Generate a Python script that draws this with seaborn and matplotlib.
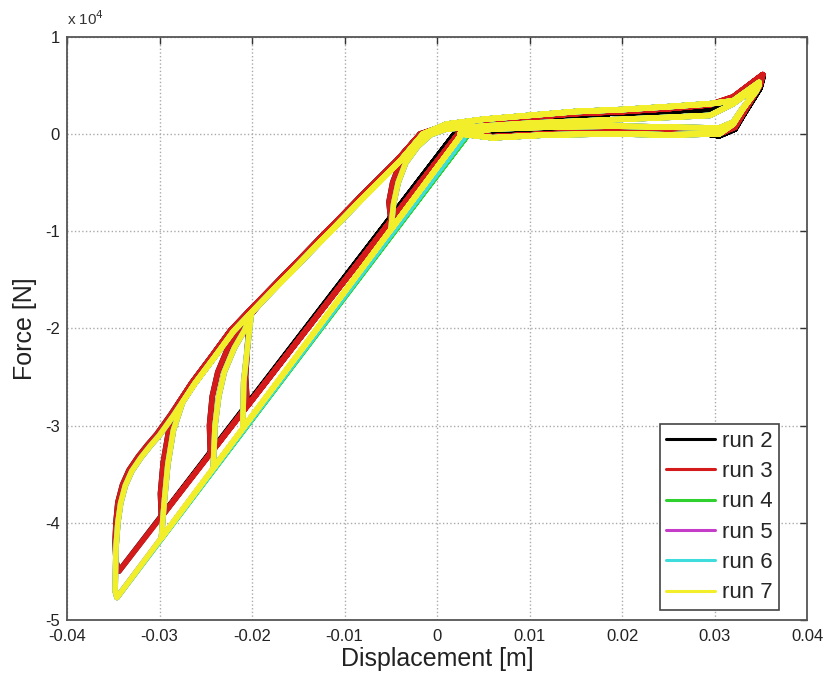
import pandas as pd
import matplotlib.pyplot as plt
import seaborn as sns
from matplotlib.lines import Line2D

# Force in units of 1e4 N, displacement in m
runs = ["run 2", "run 3", "run 4", "run 5", "run 6", "run 7"]
run_colors = ["#000000", "#d41a1a", "#2ed12e", "#c43cc8", "#3fdcdc", "#f2ef2a"]

# where each run's straight loading line leaves zero force
load_x0 = [0.0019, 0.0023, 0.0034, 0.0028, 0.0032, 0.0027]

# bottom of the loading line for each cycle: runs 2-3 and runs 4-7
tip_x_23 = [-0.0050, -0.0205, -0.0245, -0.0298, -0.0344]
tip_y_23 = [-0.89, -2.80, -3.29, -3.94, -4.50]
tip_x_47 = [-0.0050, -0.0210, -0.0242, -0.0298, -0.0346]
tip_y_47 = [-0.99, -3.03, -3.44, -4.16, -4.77]

# unloading branches of the smaller cycles, runs 2-3
u5_x_23 = [-0.0052, -0.0048, -0.0040, -0.0027, -0.0012]
u5_y_23 = [-0.70, -0.50, -0.30, -0.13, -0.01]
u20_x_23 = [-0.0207, -0.0205, -0.0203]
u20_y_23 = [-2.50, -2.20, -1.88]
u24_x_23 = [-0.0246, -0.0243, -0.0237, -0.0226, -0.0213]
u24_y_23 = [-3.00, -2.70, -2.45, -2.20, -2.00]
u30_x_23 = [-0.0299, -0.0296, -0.0290, -0.0280]
u30_y_23 = [-3.70, -3.38, -3.05, -2.78]

# unloading branches of the smaller cycles, runs 4-7
u5_x_47 = [-0.0047, -0.0042, -0.0034, -0.0021, -0.0007]
u5_y_47 = [-0.72, -0.50, -0.30, -0.13, -0.01]
u20_x_47 = [-0.0209, -0.0205, -0.0201]
u20_y_47 = [-2.55, -2.20, -1.87]
u24_x_47 = [-0.0240, -0.0236, -0.0230, -0.0219, -0.0208]
u24_y_47 = [-3.00, -2.70, -2.45, -2.20, -2.02]
u30_x_47 = [-0.0295, -0.0291, -0.0285, -0.0275]
u30_y_47 = [-3.80, -3.40, -3.05, -2.76]

# upper unloading envelope back to zero force, runs 2-3 and runs 4-7
env_x_23 = [-0.0347, -0.0348, -0.0347, -0.0345, -0.0340, -0.0333, -0.0323, -0.0313,
            -0.0303, -0.0288, -0.0265, -0.0243, -0.0223, -0.0203, -0.0163, -0.0123,
            -0.0083, -0.0043, -0.0018]
env_y_23 = [-4.40, -4.20, -3.99, -3.79, -3.61, -3.46, -3.32, -3.20,
            -3.09, -2.89, -2.56, -2.28, -2.02, -1.82, -1.43, -1.04,
            -0.65, -0.27, 0.00]
env_x_47 = [-0.0348, -0.0347, -0.0345, -0.0342, -0.0337, -0.0330, -0.0320, -0.0310,
            -0.0300, -0.0285, -0.0262, -0.0240, -0.0220, -0.0200, -0.0160, -0.0120,
            -0.0080, -0.0040, -0.0015]
env_y_47 = [-4.70, -4.25, -4.00, -3.80, -3.62, -3.47, -3.33, -3.21,
            -3.10, -2.90, -2.57, -2.29, -2.03, -1.83, -1.44, -1.05,
            -0.66, -0.28, 0.00]

# tension side loops
pos_x_run2 = [0.0010, 0.0030, 0.0050, 0.0070, 0.0090, 0.0110, 0.0130, 0.0150,
              0.0170, 0.0190, 0.0210, 0.0230, 0.0250, 0.0270, 0.0295, 0.0320,
              0.0352, 0.0349, 0.0330, 0.0322, 0.0305, 0.0285, 0.0265, 0.0245,
              0.0225, 0.0205, 0.0185, 0.0165, 0.0145, 0.0125, 0.0105, 0.0085,
              0.0065, 0.0045, 0.0025]
pos_y_run2 = [0.075, 0.11, 0.10, 0.15, 0.13, 0.17, 0.15, 0.20,
              0.17, 0.22, 0.19, 0.23, 0.21, 0.25, 0.24, 0.36,
              0.58, 0.47, 0.18, 0.05, -0.02, 0.01, 0.05, 0.02,
              0.06, 0.02, 0.06, 0.03, 0.05, 0.01, 0.05, 0.00,
              0.03, -0.02, 0.00]
pos_x_run3 = [0.0010, 0.0050, 0.0100, 0.0150, 0.0200, 0.0250, 0.0295, 0.0320, 0.0352,
              0.0349, 0.0330, 0.0322, 0.0305, 0.0250, 0.0190, 0.0120, 0.0060, 0.0025]
pos_y_run3 = [0.09, 0.13, 0.17, 0.21, 0.23, 0.26, 0.30, 0.38, 0.61,
              0.50, 0.20, 0.07, 0.00, 0.01, 0.02, 0.00, -0.03, 0.00]
pos_x_47 = [0.0010, 0.0050, 0.0100, 0.0150, 0.0200, 0.0250, 0.0295, 0.0320, 0.0348,
            0.0345, 0.0330, 0.0320, 0.0305, 0.0250, 0.0190, 0.0120, 0.0060, 0.0025]
pos_y_47a = [0.10, 0.15, 0.19, 0.23, 0.25, 0.28, 0.31, 0.34, 0.53,
             0.45, 0.25, 0.10, 0.00, -0.01, 0.00, -0.01, -0.04, 0.00]
pos_y_47b = [0.05, 0.08, 0.11, 0.13, 0.15, 0.17, 0.19, 0.31, 0.50,
             0.44, 0.26, 0.12, 0.06, 0.07, 0.08, 0.07, 0.05, 0.00]

unload_23 = [(u5_x_23, u5_y_23), (u20_x_23, u20_y_23), (u24_x_23, u24_y_23),
             (u30_x_23, u30_y_23), ([], [])]
unload_47 = [(u5_x_47, u5_y_47), (u20_x_47, u20_y_47), (u24_x_47, u24_y_47),
             (u30_x_47, u30_y_47), ([], [])]


def run_path(x0, tips_x, tips_y, unloads, env_x, env_y, pos_loops):
    xs, ys = [], []
    for k in range(5):
        px, py = pos_loops[k % len(pos_loops)]
        xs += px
        ys += py
        xs += [x0, tips_x[k]]
        ys += [0.0, tips_y[k]]
        ux, uy = unloads[k]
        xs += ux
        ys += uy
        if k > 0:
            start = ux[-1] if ux else -1.0
            for ex, ey in zip(env_x, env_y):
                if ex > start:
                    xs.append(ex)
                    ys.append(ey)
    return xs, ys


frames = []
for i, run in enumerate(runs):
    if i == 0:
        xs, ys = run_path(load_x0[i], tip_x_23, tip_y_23, unload_23,
                          env_x_23, env_y_23, [(pos_x_run2, pos_y_run2)])
    elif i == 1:
        xs, ys = run_path(load_x0[i], tip_x_23, tip_y_23, unload_23,
                          env_x_23, env_y_23, [(pos_x_run3, pos_y_run3)])
    else:
        xs, ys = run_path(load_x0[i], tip_x_47, tip_y_47, unload_47,
                          env_x_47, env_y_47,
                          [(pos_x_47, pos_y_47a), (pos_x_47, pos_y_47b)])
    frames.append(pd.DataFrame({"disp": xs, "force": ys, "run": run}))
df = pd.concat(frames, ignore_index=True)

sns.set_style("white")
plt.rcParams['font.family'] = ['Liberation Sans', 'DejaVu Sans']
plt.rcParams['axes.unicode_minus'] = False

fig = plt.figure(figsize=(8.27, 6.79), dpi=100)
ax = fig.add_axes([0.081, 0.087, 0.895, 0.859])

sns.lineplot(data=df, x="disp", y="force", hue="run", palette=run_colors,
             sort=False, estimator=None, lw=4, legend=False, ax=ax)

xt = [-0.04, -0.03, -0.02, -0.01, 0, 0.01, 0.02, 0.03, 0.04]
xt_labels = ["-0.04", "-0.03", "-0.02", "-0.01", "0", "0.01", "0.02", "0.03", "0.04"]
yt = [1, 0, -1, -2, -3, -4, -5]
yt_labels = ["1", "0", "-1", "-2", "-3", "-4", "-5"]
ax.set_xlim(-0.04, 0.04)
ax.set_ylim(-5, 1)
ax.set_xticks(xt)
ax.set_xticklabels(xt_labels)
ax.set_yticks(yt)
ax.set_yticklabels(yt_labels)
ax.tick_params(direction="in", length=5, width=1, top=True, right=True,
               labelsize=12, colors="#333333", labelcolor="#222222")
ax.tick_params(axis="x", pad=6.5)
ax.tick_params(axis="y", pad=5)
ax.grid(True, linestyle=":", color="#aaaaaa", lw=1)
for s in ax.spines.values():
    s.set_color("#555555")
    s.set_linewidth(1.3)

ax.set_xlabel("Displacement [m]", fontsize=18, labelpad=2, color="#222222")
ax.set_ylabel("Force [N]", fontsize=18, labelpad=6, color="#222222")
ax.text(0.0, 1.015, "x 10$^4$", transform=ax.transAxes, fontsize=11,
        ha="left", va="bottom", color="#333333")

handles = [Line2D([0], [0], color=c, lw=2.2) for c in run_colors]
leg = ax.legend(handles, runs, loc="lower right", bbox_to_anchor=(0.962, 0.017),
                borderaxespad=0, fontsize=16, handlelength=2.2, handletextpad=0.3,
                labelspacing=0.42, fancybox=False, framealpha=1,
                edgecolor="#444444", borderpad=0.3)
leg.get_frame().set_linewidth(1.2)

fig.savefig("out.png", dpi=100, facecolor="white")
